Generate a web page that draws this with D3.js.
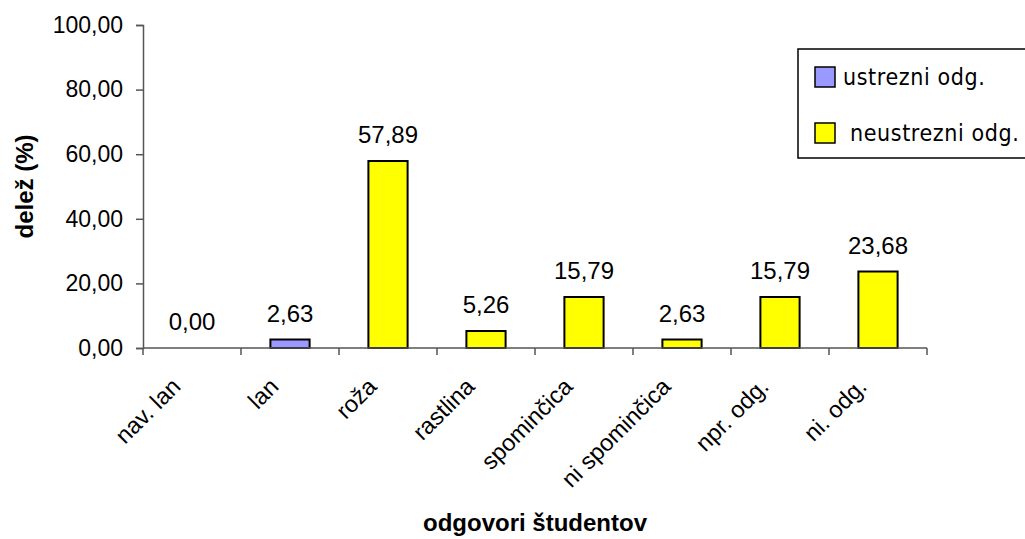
<!DOCTYPE html>
<html>
<head>
<meta charset="utf-8">
<script src="https://cdn.jsdelivr.net/npm/d3@7"></script>
<style>
  html, body { margin: 0; padding: 0; background: #fff; }
  svg { display: block; }
  text { font-family: "Liberation Sans", Arial, sans-serif; fill: #000; }
</style>
</head>
<body>
<svg id="chart" width="1025" height="539"></svg>
<script>
// Answer categories along the x axis
const categories = ["nav. lan", "lan", "roža", "rastlina", "spominčica", "ni spominčica", "npr. odg.", "ni. odg."];
// Share of students (%) per answer, split into correct and incorrect answers
const ustrezni   = [0.00, 2.63, null, null, null, null, null, null];
const neustrezni = [null, null, 57.89, 5.26, 15.79, 2.63, 15.79, 23.68];
const yTicks = [0, 20, 40, 60, 80, 100];
const seriesNames = ["ustrezni odg.", "neustrezni odg."];
const seriesColors = ["#9999FF", "#FFFF00"];

const fmt = v => d3.format(".2f")(v).replace(".", ",");

const svg = d3.select("#chart");
const plotL = 143, plotR = 927, plotT = 25, plotB = 348;

const x = d3.scaleBand().domain(categories).range([plotL, plotR]).padding(0);
const y = d3.scaleLinear().domain([0, 100]).range([plotB, plotT]);

const barW = x.bandwidth() * 0.4;

// Bars (one record per category, tagged with its series)
const bars = categories.map((c, i) => {
  const s = ustrezni[i] != null ? 0 : 1;
  const v = s === 0 ? ustrezni[i] : neustrezni[i];
  return { c, v, s };
});

svg.append("g").selectAll("rect").data(bars.filter(d => d.v > 0)).join("rect")
  .attr("x", d => x(d.c) + (x.bandwidth() - barW) / 2)
  .attr("y", d => y(d.v))
  .attr("width", barW)
  .attr("height", d => y(0) - y(d.v))
  .attr("fill", d => seriesColors[d.s])
  .attr("stroke", "#000")
  .attr("stroke-width", 2);

// Value labels above bars
svg.append("g").selectAll("text").data(bars).join("text")
  .attr("x", d => x(d.c) + x.bandwidth() / 2)
  .attr("y", d => y(d.v) - 18)
  .attr("text-anchor", "middle")
  .style("font-size", "24px")
  .text(d => fmt(d.v));

// Y axis
const yAxis = svg.append("g").attr("transform", `translate(${plotL},0)`)
  .call(d3.axisLeft(y).tickValues(yTicks).tickSize(7).tickPadding(13).tickFormat(fmt));
yAxis.select(".domain").attr("stroke", "#555").attr("stroke-width", 1.5);
yAxis.selectAll(".tick line").attr("stroke", "#555").attr("stroke-width", 1.5);
yAxis.selectAll(".tick text").style("font-size", "23px").attr("font-family", null).attr("fill", "#000");
yAxis.attr("font-family", null).attr("font-size", null);

// X axis line with ticks on the category boundaries
const xg = svg.append("g");
xg.append("line").attr("x1", plotL).attr("x2", plotR).attr("y1", y(0)).attr("y2", y(0))
  .attr("stroke", "#555").attr("stroke-width", 1.5);
const bounds = categories.map(c => x(c)).concat([x(categories[categories.length - 1]) + x.bandwidth()]);
xg.selectAll("line.t").data(bounds).join("line").attr("class", "t")
  .attr("x1", d => d).attr("x2", d => d).attr("y1", y(0)).attr("y2", y(0) + 7)
  .attr("stroke", "#555").attr("stroke-width", 1.5);

// Rotated category labels
xg.selectAll("text").data(categories).join("text")
  .attr("transform", c => `translate(${x(c) + x.bandwidth() / 2 - 10},${y(0) + 40}) rotate(-45)`)
  .attr("text-anchor", "end")
  .style("font-size", "23.5px")
  .text(c => c);

// Axis titles
svg.append("text")
  .attr("x", (plotL + plotR) / 2).attr("y", 531)
  .attr("text-anchor", "middle")
  .style("font-size", "24px").style("font-weight", "bold")
  .text("odgovori študentov");
svg.append("text")
  .attr("transform", `translate(33,${(plotT + plotB) / 2}) rotate(-90)`)
  .attr("text-anchor", "middle")
  .style("font-size", "24px").style("font-weight", "bold")
  .text("delež (%)");

// Legend
const lg = svg.append("g");
lg.append("rect").attr("x", 798).attr("y", 49).attr("width", 240).attr("height", 109)
  .attr("fill", "#fff").attr("stroke", "#000").attr("stroke-width", 1.5);
const legendRows = [
  { sy: 67, ty: 85, tx: 843 },
  { sy: 123, ty: 141, tx: 850 }
];
seriesNames.forEach((n, i) => {
  lg.append("rect").attr("x", 815).attr("y", legendRows[i].sy).attr("width", 20).attr("height", 20)
    .attr("fill", seriesColors[i]).attr("stroke", "#000").attr("stroke-width", 1.5);
  lg.append("text").attr("x", legendRows[i].tx).attr("y", legendRows[i].ty)
    .style("font-family", "'DejaVu Sans Condensed', 'DejaVu Sans', sans-serif")
    .style("font-stretch", "condensed")
    .style("font-size", "23px")
    .style("letter-spacing", "0.6px")
    .text(n);
});
</script>
</body>
</html>
